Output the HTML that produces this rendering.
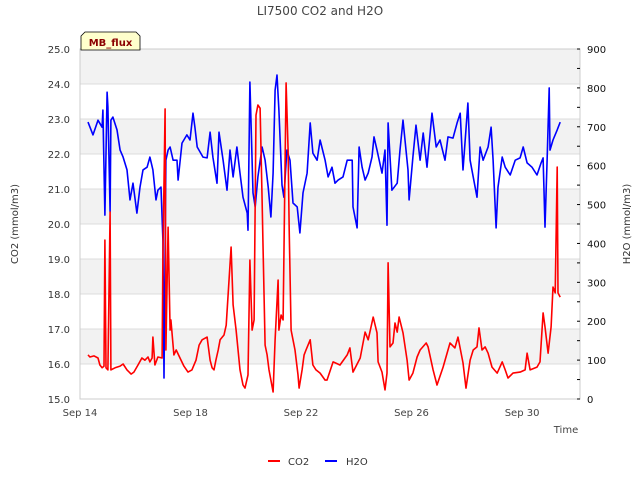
<!DOCTYPE html>
<html><head><meta charset="utf-8"><style>
body{margin:0;background:#fff;}
svg{display:block;font-family:"DejaVu Sans","Liberation Sans",sans-serif;}
</style></head><body>
<svg id="chart" width="640" height="480"></svg>
<script>
const co2Days=[0.29,0.36,0.51,0.65,0.72,0.80,0.87,0.90,0.94,1.01,1.09,1.12,1.27,1.45,1.56,1.70,1.85,1.95,2.10,2.24,2.35,2.46,2.53,2.61,2.64,2.71,2.82,2.97,3.00,3.08,3.11,3.19,3.26,3.29,3.40,3.48,3.62,3.76,3.91,4.05,4.20,4.31,4.42,4.60,4.71,4.78,4.85,4.92,5.00,5.07,5.21,5.29,5.47,5.54,5.65,5.79,5.90,5.97,6.08,6.15,6.23,6.30,6.37,6.44,6.52,6.59,6.62,6.70,6.77,6.84,6.99,7.06,7.17,7.20,7.28,7.35,7.46,7.53,7.57,7.64,7.71,7.78,7.89,7.93,8.04,8.11,8.18,8.33,8.43,8.54,8.69,8.87,8.94,9.16,9.41,9.67,9.77,9.88,10.14,10.32,10.43,10.61,10.75,10.79,10.93,11.04,11.11,11.15,11.22,11.33,11.40,11.48,11.55,11.69,11.84,11.91,12.05,12.20,12.31,12.53,12.60,12.78,12.92,13.14,13.39,13.57,13.68,13.86,13.97,14.12,14.23,14.37,14.44,14.55,14.66,14.77,14.91,15.10,15.28,15.39,15.49,15.67,15.93,16.11,16.18,16.29,16.54,16.65,16.76,16.83,16.94,17.05,17.12,17.20,17.27,17.30,17.38];
const co2Values=[16.26,16.20,16.23,16.17,15.97,15.89,15.94,19.54,15.89,15.83,20.34,15.83,15.89,15.94,16.00,15.83,15.71,15.77,15.97,16.17,16.11,16.20,16.06,16.17,16.77,15.97,16.20,16.17,19.06,23.29,16.40,19.91,16.97,17.26,16.26,16.40,16.17,15.94,15.77,15.83,16.11,16.54,16.69,16.77,16.11,15.89,15.83,16.11,16.40,16.69,16.83,17.11,19.34,17.69,16.97,15.83,15.40,15.31,15.69,18.97,16.97,17.26,23.11,23.40,23.31,20.69,19.54,16.54,16.26,15.83,15.20,16.69,18.40,16.97,17.40,17.26,24.03,22.11,19.83,16.97,16.69,16.40,15.69,15.31,15.83,16.26,16.40,16.69,15.97,15.83,15.74,15.54,15.54,16.06,15.97,16.26,16.46,15.77,16.17,16.91,16.69,17.34,16.89,16.06,15.77,15.26,15.74,18.89,16.49,16.60,17.17,16.91,17.34,16.89,16.11,15.54,15.74,16.20,16.40,16.60,16.49,15.83,15.40,15.91,16.60,16.46,16.77,16.03,15.31,16.11,16.40,16.49,17.03,16.40,16.49,16.31,15.91,15.74,16.06,15.83,15.60,15.74,15.77,15.83,16.31,15.83,15.91,16.06,17.46,17.06,16.31,17.06,18.20,18.03,21.63,18.03,17.91];
const h2oDays=[0.29,0.47,0.65,0.80,0.83,0.90,0.98,1.01,1.09,1.12,1.19,1.34,1.45,1.56,1.70,1.81,1.92,2.06,2.17,2.28,2.43,2.53,2.64,2.75,2.82,2.93,3.00,3.04,3.11,3.19,3.26,3.37,3.51,3.55,3.69,3.87,3.98,4.09,4.16,4.24,4.45,4.60,4.71,4.81,4.96,5.03,5.18,5.32,5.43,5.54,5.68,5.79,5.90,6.05,6.08,6.15,6.26,6.34,6.44,6.59,6.70,6.81,6.91,6.99,7.06,7.13,7.20,7.31,7.38,7.49,7.60,7.71,7.86,7.96,8.07,8.22,8.33,8.43,8.58,8.69,8.87,8.98,9.12,9.23,9.34,9.52,9.67,9.85,9.88,10.03,10.10,10.21,10.32,10.43,10.57,10.64,10.75,10.93,11.04,11.11,11.15,11.29,11.48,11.58,11.69,11.87,11.91,12.05,12.16,12.31,12.42,12.56,12.74,12.89,13.03,13.21,13.32,13.50,13.65,13.76,13.86,14.04,14.12,14.23,14.37,14.48,14.59,14.77,14.88,14.95,15.06,15.13,15.28,15.39,15.57,15.75,15.93,16.04,16.18,16.36,16.54,16.69,16.76,16.83,16.91,16.98,17.01,17.12,17.27,17.38];
const h2oValues=[712,679,717,699,743,473,789,751,481,717,725,692,640,622,589,512,555,478,545,589,596,622,589,512,537,545,409,54,614,640,648,614,614,563,658,679,666,735,699,648,622,620,686,622,555,686,614,537,640,571,648,581,519,478,434,815,530,494,571,648,614,545,468,581,794,833,743,550,519,640,614,504,494,427,530,581,710,632,614,666,614,571,596,555,563,571,614,614,494,440,648,596,563,581,622,674,640,581,640,447,710,537,555,640,717,589,512,622,704,614,684,596,735,648,666,614,674,671,710,735,589,761,614,571,519,648,614,648,699,614,440,545,622,596,576,614,620,648,607,596,576,607,620,442,622,800,640,666,692,712];
const co2Ticks=[15,16,17,18,19,20,21,22,23,24,25];
const h2oTicks=[0,100,200,300,400,500,600,700,800,900];
const xTickDays=[0,4,8,12,16];
const xTickLabels=["Sep 14","Sep 18","Sep 22","Sep 26","Sep 30"];

const L=80,R=580,T=49,B=399;
const xs=d=>L+d*27.63;
const yC=v=>B-(v-15)*(B-T)/10;
const yH=v=>B-v*(B-T)/900;
const NS="http://www.w3.org/2000/svg";
const svg=document.getElementById('chart');
function mk(tag,attrs,parent){const e=document.createElementNS(NS,tag);for(const k in attrs)e.setAttribute(k,attrs[k]);(parent||svg).appendChild(e);return e;}

// bands
for(let v=16;v<25;v+=2){
  const r=mk('rect',{x:L,y:yC(v+1),width:R-L,height:yC(v)-yC(v+1),fill:'#f2f2f2'});
  
  
}
// grid
co2Ticks.forEach(v=>{
  const g=mk('line',{x1:L,x2:R,y1:yC(v),y2:yC(v),stroke:'#dcdcdc','stroke-width':1});
  
  
});
const frame=mk('rect',{x:L,y:T,width:R-L,height:B-T,fill:'none',stroke:'#cccccc','stroke-width':1});



// left ticks labels
co2Ticks.forEach(v=>{
  const t=mk('text',{x:L-10,y:yC(v)+4,'text-anchor':'end','font-size':10,fill:'#333'});
  t.textContent=v.toFixed(1);
  
  
});
// right ticks
for(let v=0;v<=900;v+=50){
  const tk=mk('line',{x1:R-3,x2:R,y1:yH(v),y2:yH(v),stroke:'#000','stroke-width':1});
  
  
}
h2oTicks.forEach(v=>{
  const t=mk('text',{x:R+7,y:yH(v)+4,'font-size':10,fill:'#111'});
  t.textContent=v;
  
  
});
xTickDays.forEach((d,i)=>{
  const t=mk('text',{x:xs(d),y:416,'text-anchor':'middle','font-size':10,fill:'#444'});
  t.textContent=xTickLabels[i];
  
  
});

function line(days,vals,yf,color,name){
  const p=days.map((d,i)=>(i?'L':'M')+xs(d).toFixed(1)+','+yf(vals[i]).toFixed(1)).join('');
  const e=mk('path',{d:p,fill:'none',stroke:color,'stroke-width':1.6,'stroke-linejoin':'round'});
  
  
}
line(h2oDays,h2oValues,yH,'#0000ff','h2o-series');
line(co2Days,co2Values,yC,'#ff0000','co2-series');

function txt(s,attrs,name){const t=mk('text',attrs);t.textContent=s;return t;}
txt('LI7500 CO2 and H2O',{x:320,y:15,'text-anchor':'middle','font-size':12,fill:'#444'},'chart-title');
txt('CO2 (mmol/m3)',{x:18,y:224,'text-anchor':'middle','font-size':10,fill:'#333',transform:'rotate(-90 18 224)'},'y-left-axis-title');
txt('H2O (mmol/m3)',{x:630,y:224,'text-anchor':'middle','font-size':10,fill:'#333',transform:'rotate(-90 630 224)'},'y-right-axis-title');
txt('Time',{x:566,y:433,'text-anchor':'middle','font-size':10,fill:'#444'},'x-axis-title');

const badge=mk('path',{d:'M81,50 L81,36 L85,32 L136,32 L140,36 L140,50 Z',fill:'#ffffcc',stroke:'#000','stroke-width':0.8});


txt('MB_flux',{x:110.5,y:46,'text-anchor':'middle','font-size':10,'font-weight':'bold',fill:'#8b0000'},'site-badge-label');

const l1=mk('line',{x1:268,x2:280,y1:461,y2:461,stroke:'#ff0000','stroke-width':2});


txt('CO2',{x:288,y:465,'font-size':10,fill:'#333'},'legend-co2-label');
const l2=mk('line',{x1:325,x2:337,y1:461,y2:461,stroke:'#0000ff','stroke-width':2});


txt('H2O',{x:346,y:465,'font-size':10,fill:'#333'},'legend-h2o-label');
</script>
</body></html>
